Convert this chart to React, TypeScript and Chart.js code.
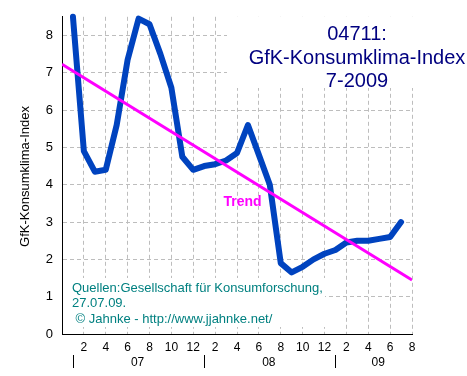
import React, { useEffect, useRef } from 'react';
import { Chart, registerables } from 'chart.js';

Chart.register(...registerables);

// Month index: 1 = Jan 2007 ... 31 = Jul 2009
const months = [1, 2, 3, 4, 5, 6, 7, 8, 9, 10, 11, 12, 13, 14, 15, 16, 17, 18, 19, 20, 21, 22, 23, 24, 25, 26, 27, 28, 29, 30, 31];
const klimaValues = [8.5, 4.9, 4.35, 4.4, 5.6, 7.35, 8.45, 8.3, 7.5, 6.6, 4.75, 4.4, 4.5, 4.55, 4.65, 4.85, 5.6, 4.8, 4.0, 1.9, 1.65, 1.8, 2.0, 2.15, 2.25, 2.45, 2.5, 2.5, 2.55, 2.6, 3.0];
const trendMonths = [0, 32];
const trendValues = [7.23, 1.45];

const yearLabels = ['07', '08', '09'];
const yearCenters = [7, 19, 29];
const yearStarts = [1, 13, 25];

const titleLines = ['04711:', 'GfK-Konsumklima-Index', '7-2009'];
const sourceLines = ['Quellen:Gesellschaft für Konsumforschung,', '27.07.09.', ' © Jahnke - http://www.jjahnke.net/'];
const yTitle = 'GfK-Konsumklima-Index';
const trendLabel = 'Trend';

const FONT = '"Liberation Sans", Arial, sans-serif';

const overlayPlugin = {
  id: 'overlay',
  beforeDatasetsDraw(chart: any) {
    const ctx = chart.ctx;
    const { left, top } = chart.chartArea;
    ctx.save();
    ctx.fillStyle = '#ffffff';
    ctx.fillRect(227, top, 467 - 227, 88 - top);
    ctx.fillRect(left + 1, 278, 262, 49);
    ctx.restore();
  },
  afterDraw(chart: any) {
    const ctx = chart.ctx;
    const xs = chart.scales.x;
    const ys = chart.scales.y;
    ctx.save();
    // y axis title
    ctx.save();
    ctx.fillStyle = '#000';
    ctx.font = `13px ${FONT}`;
    ctx.textAlign = 'center';
    ctx.textBaseline = 'middle';
    ctx.translate(25, 176.5);
    ctx.rotate(-Math.PI / 2);
    ctx.fillText(yTitle, 0, 0);
    ctx.restore();
    // title
    ctx.fillStyle = '#000080';
    ctx.font = `20px ${FONT}`;
    ctx.textAlign = 'center';
    ctx.textBaseline = 'alphabetic';
    const tBase = [40, 63.5, 87];
    titleLines.forEach((t, i) => ctx.fillText(t, 357, tBase[i]));
    // source
    ctx.fillStyle = '#008080';
    ctx.font = `13px ${FONT}`;
    ctx.textAlign = 'left';
    const sBase = [291.5, 307, 323];
    sourceLines.forEach((t, i) => ctx.fillText(t, 72, sBase[i]));
    // trend label
    ctx.fillStyle = '#ff00ff';
    ctx.font = `bold 14px ${FONT}`;
    ctx.textAlign = 'center';
    ctx.fillText(trendLabel, xs.getPixelForValue(16.5), ys.getPixelForValue(3.42));
    // years
    ctx.fillStyle = '#000';
    ctx.strokeStyle = '#000';
    ctx.lineWidth = 1;
    ctx.font = `12px ${FONT}`;
    yearStarts.forEach((m) => {
      const x = Math.round(xs.getPixelForValue(m)) + 0.5;
      ctx.beginPath();
      ctx.moveTo(x, 355);
      ctx.lineTo(x, 368);
      ctx.stroke();
    });
    yearLabels.forEach((t, i) => ctx.fillText(t, xs.getPixelForValue(yearCenters[i]) - 1, 366));
    ctx.restore();
  },
};

export default function App() {
  const ref = useRef<HTMLCanvasElement | null>(null);
  useEffect(() => {
    if (!ref.current) return;
    const chart = new Chart(ref.current, {
      type: 'line',
      data: {
        datasets: [
          {
            label: 'Trend',
            data: trendMonths.map((m, i) => ({ x: m, y: trendValues[i] })),
            borderColor: '#ff00ff',
            borderWidth: 3,
            pointRadius: 0,
            fill: false,
          },
          {
            label: 'GfK-Konsumklima',
            data: months.map((m, i) => ({ x: m, y: klimaValues[i] })),
            borderColor: '#0043bf',
            borderWidth: 6,
            pointRadius: 0,
            tension: 0,
            borderJoinStyle: 'round',
            borderCapStyle: 'round',
            clip: false as any,
            fill: false,
          },
        ],
      },
      options: {
        animation: false,
        responsive: false,
        maintainAspectRatio: false,
        layout: { padding: { left: 0, right: 55, top: 13, bottom: 0 } },
        plugins: { legend: { display: false }, tooltip: { enabled: false }, title: { display: false } },
        scales: {
          x: {
            type: 'linear',
            min: 0,
            max: 32,
            position: 'bottom',
            afterFit: (s: any) => { s.height = 42; },
            ticks: {
              stepSize: 2,
              autoSkip: false,
              maxRotation: 0,
              padding: 6,
              color: '#000',
              font: { family: FONT, size: 12 },
              callback: (v: any) => (v === 0 ? '' : String(((v - 1) % 12) + 1)),
            },
            grid: { color: '#bdbdbd', lineWidth: 1, drawTicks: false },
            border: { display: true, color: '#000', width: 1, dash: [4, 3] },
          },
          y: {
            min: 0,
            max: 8.5,
            afterFit: (s: any) => { s.width = 62; },
            ticks: { stepSize: 1, includeBounds: false, padding: 9, color: '#000', font: { family: FONT, size: 13 } },
            grid: { color: '#bdbdbd', lineWidth: 1, drawTicks: false },
            border: { display: true, color: '#000', width: 1, dash: [4, 3] },
          },
        },
      } as any,
      plugins: [overlayPlugin],
    });
    return () => chart.destroy();
  }, []);
  return (
    <div style={{ position: 'absolute', left: 0, top: 0, width: 467, height: 376, background: '#fff' }}>
      <canvas ref={ref} width={467} height={376} style={{ display: 'block', width: 467, height: 376 }} />
    </div>
  );
}
